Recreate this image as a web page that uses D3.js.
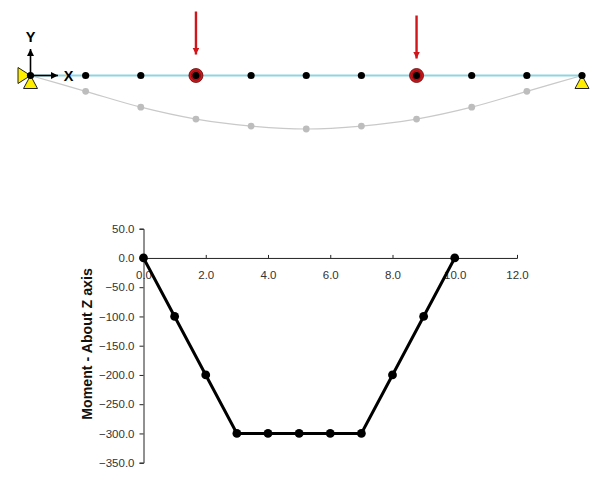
<!DOCTYPE html>
<html>
<head>
<meta charset="utf-8">
<script src="https://cdn.jsdelivr.net/npm/d3@7"></script>
<style>
body { margin: 0; background: #fff; }
svg { display: block; }
text { font-family: "Liberation Sans", Arial, sans-serif; }
</style>
</head>
<body>
<div id="chart"></div>
<script>
// beam data, station along the span and how far each node drops
var stations = [0, 1, 2, 3, 4, 5, 6, 7, 8, 9, 10];
var deflection = [0, -16, -32, -44, -51, -54, -51, -44, -32, -16, 0];
var loadStations = [3, 7];
var loadStart = [64, 60];

// moment diagram data
var momentX = [0, 1, 2, 3, 4, 5, 6, 7, 8, 9, 10];
var momentY = [0, -100, -200, -300, -300, -300, -300, -300, -200, -100, 0];
var xTicks = [0, 2, 4, 6, 8, 10, 12];
var yTicks = [50, 0, -50, -100, -150, -200, -250, -300, -350];

var svg = d3.select("#chart")
    .append("svg")
    .attr("width", 612)
    .attr("height", 482);

// ---- beam on top ----
var beamX = d3.scaleLinear().domain([0, 10]).range([30.5, 582]);
var beamY = d3.scaleLinear().domain([0, -54]).range([75.5, 129]);

var defs = svg.append("defs");
function arrowHead(id, color, w, h) {
    defs.append("marker")
        .attr("id", id)
        .attr("viewBox", `0 0 ${w} ${h}`)
        .attr("refX", w)
        .attr("refY", h / 2)
        .attr("markerWidth", w)
        .attr("markerHeight", h)
        .attr("markerUnits", "userSpaceOnUse")
        .attr("orient", "auto")
        .append("path")
        .attr("d", `M0,0L${w},${h / 2}L0,${h}Z`)
        .attr("fill", color);
}
arrowHead("headBlack", "#000", 7, 7);
arrowHead("headRed", "#d0161b", 7, 7);

// deflected shape
var curve = d3.line()
    .x((d, i) => beamX(stations[i]))
    .y(d => beamY(d))
    .curve(d3.curveMonotoneX);

svg.append("path")
    .attr("d", curve(deflection))
    .attr("fill", "none")
    .attr("stroke", "#c9c9c9")
    .attr("stroke-width", 1.2);

svg.selectAll(".defNode")
    .data(deflection.slice(1, -1))
    .enter()
    .append("circle")
    .attr("cx", (d, i) => beamX(stations[i + 1]))
    .attr("cy", d => beamY(d))
    .attr("r", 3.4)
    .attr("fill", "#bdbdbd");

// undeformed beam
svg.append("line")
    .attr("x1", beamX(0))
    .attr("x2", beamX(10))
    .attr("y1", beamY(0))
    .attr("y2", beamY(0))
    .attr("stroke", "#8ed5e0")
    .attr("stroke-width", 2);

// supports
function triangle(points) {
    svg.append("path")
        .attr("d", "M" + points.join("L") + "Z")
        .attr("fill", "#ffee00")
        .attr("stroke", "#222")
        .attr("stroke-width", 1);
}
var x0 = beamX(0), x1 = beamX(10), yb = beamY(0);
triangle([[x0, yb], [x0 - 12.5, yb - 8], [x0 - 12.5, yb + 8]]);
triangle([[x0, yb], [x0 - 7, yb + 13], [x0 + 7, yb + 13]]);
triangle([[x1, yb], [x1 - 7, yb + 13], [x1 + 7, yb + 13]]);

// red load nodes
svg.selectAll(".loadNode")
    .data(loadStations)
    .enter()
    .append("circle")
    .attr("cx", d => beamX(d))
    .attr("cy", yb)
    .attr("r", 7)
    .attr("fill", "#d0161b")
    .attr("stroke", "#5a0a0a")
    .attr("stroke-width", 0.8);

svg.selectAll(".loadRing")
    .data(loadStations)
    .enter()
    .append("circle")
    .attr("cx", d => beamX(d))
    .attr("cy", yb)
    .attr("r", 4.6)
    .attr("fill", "none")
    .attr("stroke", "#7a0c10")
    .attr("stroke-width", 0.8);

svg.selectAll(".node")
    .data(stations)
    .enter()
    .append("circle")
    .attr("cx", d => beamX(d))
    .attr("cy", yb)
    .attr("r", 3.6)
    .attr("fill", "#000");

// load arrows
svg.selectAll(".load")
    .data(loadStations)
    .enter()
    .append("line")
    .attr("x1", d => beamX(d))
    .attr("x2", d => beamX(d))
    .attr("y1", (d, i) => yb - loadStart[i])
    .attr("y2", (d, i) => yb - loadStart[i] + 43)
    .attr("stroke", "#d0161b")
    .attr("stroke-width", 2.4)
    .attr("marker-end", "url(#headRed)");

// global axes
svg.append("line")
    .attr("x1", x0).attr("y1", yb)
    .attr("x2", x0 + 27.5).attr("y2", yb)
    .attr("stroke", "#000").attr("stroke-width", 1.6)
    .attr("marker-end", "url(#headBlack)");
svg.append("line")
    .attr("x1", x0).attr("y1", yb)
    .attr("x2", x0).attr("y2", yb - 26.5)
    .attr("stroke", "#000").attr("stroke-width", 1.6)
    .attr("marker-end", "url(#headBlack)");
svg.append("text")
    .attr("x", 68.5).attr("y", 81)
    .attr("text-anchor", "middle")
    .attr("font-size", 14.5).attr("font-weight", "bold")
    .text("X");
svg.append("text")
    .attr("x", 30.5).attr("y", 42)
    .attr("text-anchor", "middle")
    .attr("font-size", 14.5).attr("font-weight", "bold")
    .text("Y");

// ---- moment chart ----
var x = d3.scaleLinear().domain([0, 12]).range([143.5, 517]);
var y = d3.scaleLinear().domain([50, -350]).range([228.7, 462.7]);

var xaxis = d3.axisTop(x)
    .tickValues(xTicks)
    .tickFormat(d3.format(".1f"))
    .tickSize(3)
    .tickPadding(-24);

var yaxis = d3.axisLeft(y)
    .tickValues(yTicks)
    .tickFormat(d3.format(".1f"))
    .tickSize(4)
    .tickPadding(5);

var gx = svg.append("g")
    .attr("transform", `translate(0, ${y(0)})`)
    .call(xaxis);
var gy = svg.append("g")
    .attr("transform", `translate(${x(0)}, 0)`)
    .call(yaxis);

[gx, gy].forEach(function(g) {
    g.selectAll("path, line").attr("stroke", "#222");
    g.selectAll("text")
        .attr("fill", "#333")
        .style("font-family", '"Liberation Sans", Arial, sans-serif')
        .style("font-size", "11.5px");
});

var momentLine = d3.line()
    .x((d, i) => x(momentX[i]))
    .y(d => y(d));

svg.append("path")
    .attr("d", momentLine(momentY))
    .attr("fill", "none")
    .attr("stroke", "#000")
    .attr("stroke-width", 3);

svg.selectAll(".moment")
    .data(momentY)
    .enter()
    .append("circle")
    .attr("cx", (d, i) => x(momentX[i]))
    .attr("cy", d => y(d))
    .attr("r", 4.4)
    .attr("fill", "#000");

// y-axis label
svg.append("text")
    .attr("transform", "rotate(-90)")
    .attr("x", -344)
    .attr("y", 92)
    .attr("text-anchor", "middle")
    .attr("font-size", 14.2)
    .attr("font-weight", "bold")
    .attr("fill", "#111")
    .text("Moment - About Z axis");
</script>
</body>
</html>
